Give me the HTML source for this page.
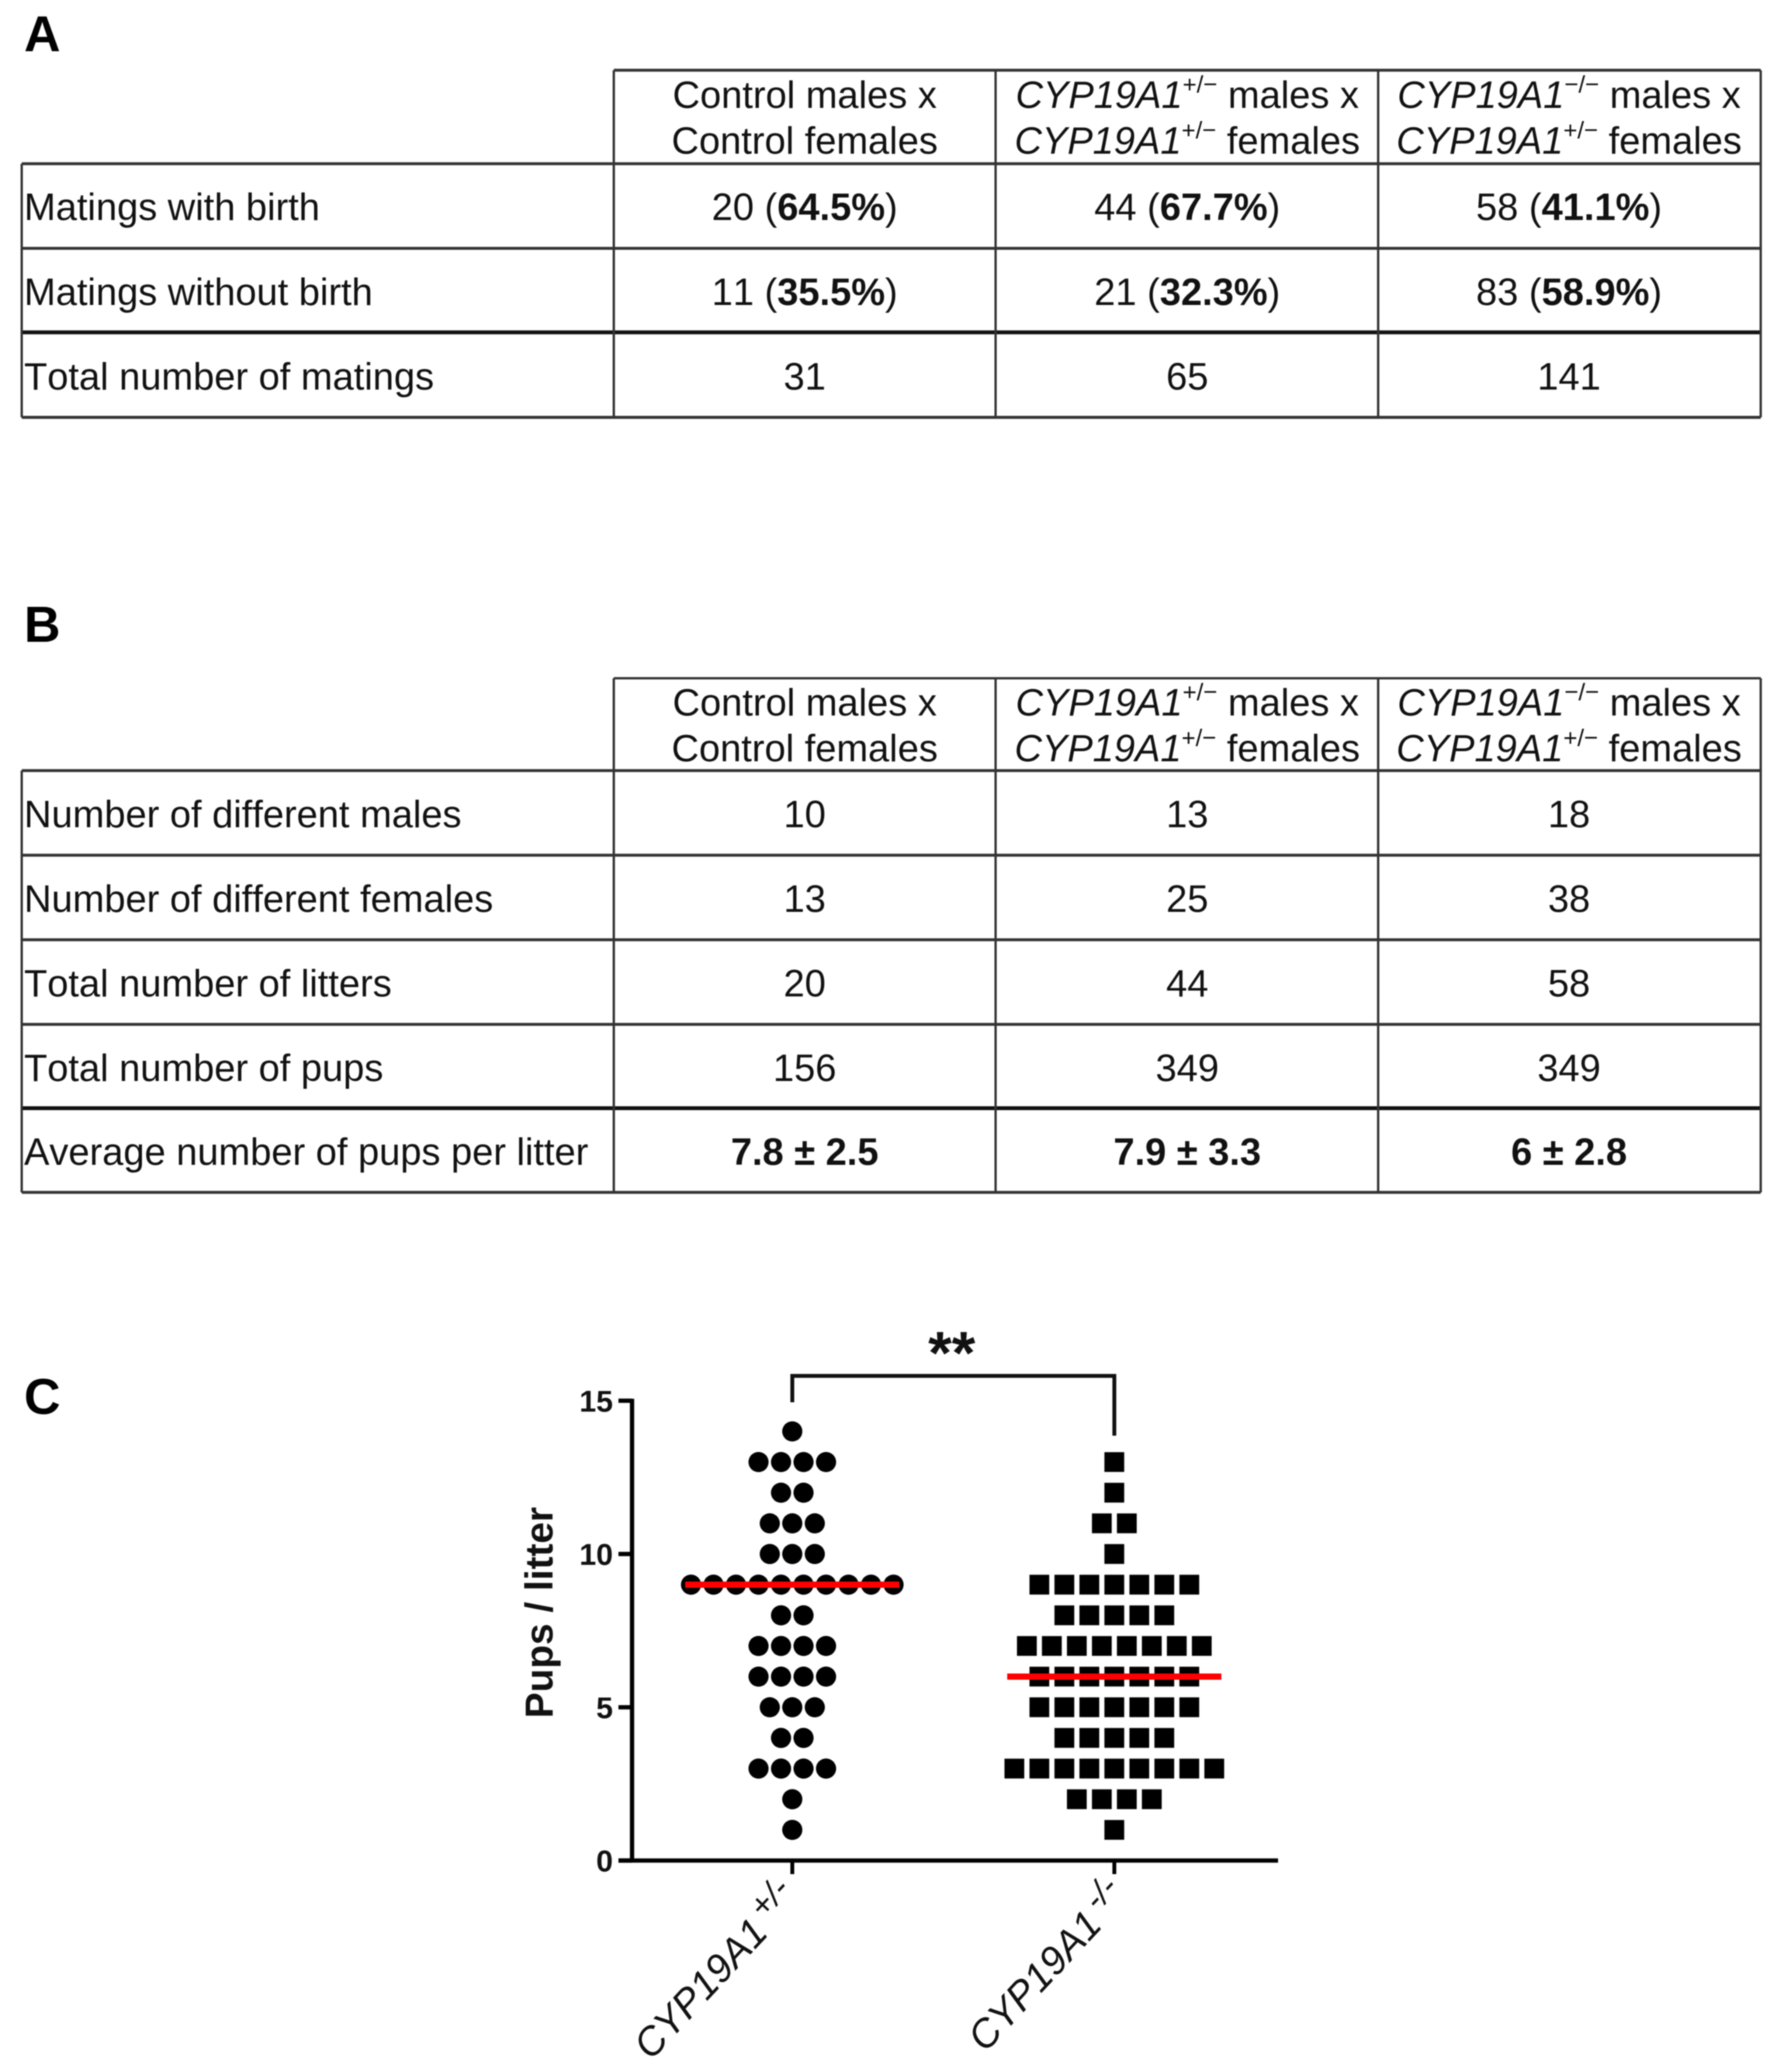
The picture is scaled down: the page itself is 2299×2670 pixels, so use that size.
<!DOCTYPE html>
<html lang="en">
<head>
<meta charset="utf-8">
<title>CYP19A1 mating outcomes and litter sizes</title>
<style>
html,body{margin:0;padding:0;background:#fff;}
body{width:2299px;height:2670px;overflow:hidden;}
svg{display:block;filter:blur(0.9px);}
text{font-family:"Liberation Sans",sans-serif;fill:#111;font-kerning:none;}
.cell{font-size:49px;}
.c{text-anchor:middle;}
.lab{font-size:65px;font-weight:700;fill:#000;}
.g{stroke:#333;stroke-width:3;fill:none;}
.h{stroke:#333;stroke-width:3.8;fill:none;}
.k{stroke:#111;stroke-width:5;fill:none;}
.i{font-style:italic;}
.b{font-weight:700;}
.s{font-size:31px;}
</style>
</head>
<body>
<svg id="fig" width="2299" height="2670" viewBox="0 0 2299 2670" xmlns="http://www.w3.org/2000/svg">
<rect width="2299" height="2670" fill="#fff"/>

<text class="lab" x="31" y="66">A</text>
<g>
  <g>
    <path class="h" d="M791 90.500H2269M28 211H2269M28 320H2269M28 537.800H2269"/>
    <path class="k" d="M28 428.300H2269"/>
    <path class="g" d="M791 90.500V537.800M1283 90.500V537.800M1776 90.500V537.800M2269 90.500V537.800M28 211V537.800"/>
  </g>
  <text class="cell c" x="1037" y="139">Control males x</text>
  <text class="cell c" x="1037" y="198">Control females</text>
  <text class="cell c" x="1530" y="139"><tspan class="i">CYP19A1</tspan><tspan class="s" dy="-20">+/−</tspan><tspan dy="20"> males x</tspan></text>
  <text class="cell c" x="1530" y="198"><tspan class="i">CYP19A1</tspan><tspan class="s" dy="-20">+/−</tspan><tspan dy="20"> females</tspan></text>
  <text class="cell c" x="2022" y="139"><tspan class="i">CYP19A1</tspan><tspan class="s" dy="-20">−/−</tspan><tspan dy="20"> males x</tspan></text>
  <text class="cell c" x="2022" y="198"><tspan class="i">CYP19A1</tspan><tspan class="s" dy="-20">+/−</tspan><tspan dy="20"> females</tspan></text>

  <text class="cell" x="31" y="283.500">Matings with birth</text>
  <text class="cell c" x="1037" y="283.500">20 (<tspan class="b">64.5%</tspan>)</text>
  <text class="cell c" x="1530" y="283.500">44 (<tspan class="b">67.7%</tspan>)</text>
  <text class="cell c" x="2022" y="283.500">58 (<tspan class="b">41.1%</tspan>)</text>

  <text class="cell" x="31" y="393">Matings without birth</text>
  <text class="cell c" x="1037" y="393">11 (<tspan class="b">35.5%</tspan>)</text>
  <text class="cell c" x="1530" y="393">21 (<tspan class="b">32.3%</tspan>)</text>
  <text class="cell c" x="2022" y="393">83 (<tspan class="b">58.9%</tspan>)</text>

  <text class="cell" x="31" y="502">Total number of matings</text>
  <text class="cell c" x="1037" y="502">31</text>
  <text class="cell c" x="1530" y="502">65</text>
  <text class="cell c" x="2022" y="502">141</text>
</g>

<text class="lab" x="31" y="827">B</text>
<g>
  <g>
    <path class="g" d="M791 874H2269"/>
    <path class="h" d="M28 993H2269M28 1102H2269M28 1211H2269M28 1320H2269M28 1536.500H2269"/>
    <path class="k" d="M28 1428H2269"/>
    <path class="g" d="M791 874V1536.500M1283 874V1536.500M1776 874V1536.500M2269 874V1536.500M28 993V1536.500"/>
  </g>
  <text class="cell c" x="1037" y="922">Control males x</text>
  <text class="cell c" x="1037" y="981">Control females</text>
  <text class="cell c" x="1530" y="922"><tspan class="i">CYP19A1</tspan><tspan class="s" dy="-20">+/−</tspan><tspan dy="20"> males x</tspan></text>
  <text class="cell c" x="1530" y="981"><tspan class="i">CYP19A1</tspan><tspan class="s" dy="-20">+/−</tspan><tspan dy="20"> females</tspan></text>
  <text class="cell c" x="2022" y="922"><tspan class="i">CYP19A1</tspan><tspan class="s" dy="-20">−/−</tspan><tspan dy="20"> males x</tspan></text>
  <text class="cell c" x="2022" y="981"><tspan class="i">CYP19A1</tspan><tspan class="s" dy="-20">+/−</tspan><tspan dy="20"> females</tspan></text>

  <text class="cell" x="31" y="1066">Number of different males</text>
  <text class="cell c" x="1037" y="1066">10</text>
  <text class="cell c" x="1530" y="1066">13</text>
  <text class="cell c" x="2022" y="1066">18</text>

  <text class="cell" x="31" y="1175">Number of different females</text>
  <text class="cell c" x="1037" y="1175">13</text>
  <text class="cell c" x="1530" y="1175">25</text>
  <text class="cell c" x="2022" y="1175">38</text>

  <text class="cell" x="31" y="1284">Total number of litters</text>
  <text class="cell c" x="1037" y="1284">20</text>
  <text class="cell c" x="1530" y="1284">44</text>
  <text class="cell c" x="2022" y="1284">58</text>

  <text class="cell" x="31" y="1393">Total number of pups</text>
  <text class="cell c" x="1037" y="1393">156</text>
  <text class="cell c" x="1530" y="1393">349</text>
  <text class="cell c" x="2022" y="1393">349</text>

  <text class="cell" x="31" y="1501">Average number of pups per litter</text>
  <text class="cell c b" x="1037" y="1501">7.8 ± 2.5</text>
  <text class="cell c b" x="1530" y="1501">7.9 ± 3.3</text>
  <text class="cell c b" x="2022" y="1501">6 ± 2.8</text>
</g>

<text class="lab" x="31" y="1822">C</text>
<g id="chart"></g>
</svg>

<script>
// Chart data
const litterSizes = [1, 2, 3, 4, 5, 6, 7, 8, 9, 10, 11, 12, 13, 14];
const hetLitterCounts = [1, 1, 4, 2, 3, 4, 4, 2, 10, 3, 3, 2, 4, 1];
const koLitterCounts = [1, 4, 9, 5, 7, 7, 8, 5, 7, 1, 2, 1, 1, 0];
const medians = [9, 6];
const yTickValues = [0, 5, 10, 15];
const categoryNames = ['CYP19A1', 'CYP19A1'];
const categorySuperscripts = ['+/-', '-/-'];

const NS = 'http://www.w3.org/2000/svg';
const chart = document.getElementById('chart');

function yScale(v) { return 2397.5 - v * (2397.5 - 1805) / 15; }
function xScale(i) { return 1021 + i * (1436 - 1021); }

function make(tag, attrs) {
  const el = document.createElementNS(NS, tag);
  for (const k in attrs) el.setAttribute(k, attrs[k]);
  chart.appendChild(el);
  return el;
}

// Axes
const yAxis = make('line', { x1: 814.5, x2: 814.5, y1: yScale(15) - 2.5, y2: yScale(0) + 2.5, stroke: '#000', 'stroke-width': 5.5 });


const xAxis = make('line', { x1: 797, x2: 1647, y1: yScale(0), y2: yScale(0), stroke: '#000', 'stroke-width': 5.5 });



yTickValues.forEach(function (v) {
  const tick = make('line', { x1: 797, x2: 814.5, y1: yScale(v), y2: yScale(v), stroke: '#000', 'stroke-width': 5.5 });
  
  
  const label = make('text', { x: 790, y: yScale(v) + 14, 'text-anchor': 'end', 'font-size': 39, 'font-weight': 700 });
  
  
  label.textContent = String(v);
});

const yTitle = make('text', { transform: 'translate(712 2078) rotate(-90)', 'text-anchor': 'middle', 'font-size': 50, 'font-weight': 700 });


yTitle.textContent = 'Pups / litter';

categoryNames.forEach(function (name, i) {
  const tick = make('line', { x1: xScale(i), x2: xScale(i), y1: yScale(0), y2: 2415, stroke: '#000', 'stroke-width': 5 });
  
  
  const label = make('text', { transform: 'translate(' + (xScale(i) + 12 + i * 8) + ' ' + (2448 - i * 2) + ') rotate(-47)', 'text-anchor': 'end', 'font-size': 51, 'font-style': 'italic' });
  
  
  const base = document.createElementNS(NS, 'tspan');
  base.textContent = name;
  label.appendChild(base);
  const sup = document.createElementNS(NS, 'tspan');
  sup.setAttribute('font-size', '44');
  sup.setAttribute('dy', '-18');
  sup.setAttribute('dx', '8');
  sup.textContent = categorySuperscripts[i];
  label.appendChild(sup);
});

// Points
const circleStep = 29;
const squareStep = 32.2;
litterSizes.forEach(function (size, r) {
  const n = hetLitterCounts[r];
  for (let j = 0; j < n; j++) {
    const dot = make('circle', { cx: xScale(0) + (j - (n - 1) / 2) * circleStep, cy: yScale(size), r: 13, fill: '#000' });
    
    
  }
  const m = koLitterCounts[r];
  for (let j = 0; j < m; j++) {
    const sq = make('rect', { x: xScale(1) + (j - (m - 1) / 2) * squareStep - 12.75, y: yScale(size) - 12.75, width: 25.5, height: 25.5, fill: '#000' });
    
    
  }
});

// Median lines
medians.forEach(function (v, i) {
  const line = make('line', { x1: xScale(i) - 138, x2: xScale(i) + 138, y1: yScale(v), y2: yScale(v), stroke: '#ff0000', 'stroke-width': 8 });
  
  
});

// Significance bracket
const bracket = make('path', { d: 'M' + xScale(0) + ' 1807V1773H' + xScale(1) + 'V1850', fill: 'none', stroke: '#111', 'stroke-width': 5 });


const stars = make('text', { x: 1226.5, y: 1770, 'text-anchor': 'middle', 'font-size': 78, 'font-weight': 700 });


stars.textContent = '**';
</script>
</body>
</html>
